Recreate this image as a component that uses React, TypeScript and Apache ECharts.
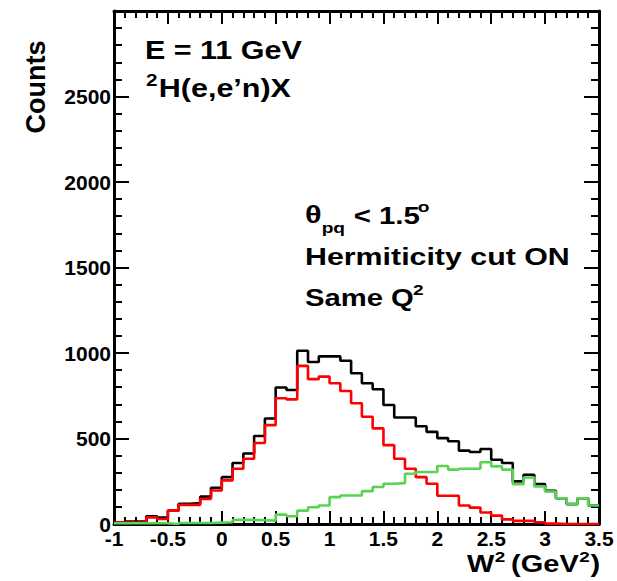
import React, { useEffect, useRef } from "react";
import * as echarts from "echarts";

// Bin edges of W^2 (GeV^2), 0.1 wide, from -1 to 3.5
const binEdges = [
  -1.0, -0.9, -0.8, -0.7, -0.6, -0.5, -0.4, -0.3, -0.2, -0.1,
  0.0, 0.1, 0.2, 0.3, 0.4, 0.5, 0.6, 0.7, 0.8, 0.9,
  1.0, 1.1, 1.2, 1.3, 1.4, 1.5, 1.6, 1.7, 1.8, 1.9,
  2.0, 2.1, 2.2, 2.3, 2.4, 2.5, 2.6, 2.7, 2.8, 2.9,
  3.0, 3.1, 3.2, 3.3, 3.4, 3.5,
];

// Black histogram (all events)
const totalCounts = [
  8, 14, 14, 45, 38, 78, 118, 122, 160, 212,
  274, 357, 412, 515, 617, 798, 784, 1013, 947, 980,
  980, 955, 882, 823, 788, 696, 623, 623, 572, 539,
  502, 484, 429, 421, 439, 376, 357, 249, 288, 233,
  194, 151, 116, 151, 108,
];

// Red histogram
const redCounts = [
  8, 8, 8, 39, 29, 78, 112, 112, 147, 196,
  255, 323, 382, 474, 578, 735, 729, 925, 847, 862,
  823, 778, 706, 627, 559, 461, 382, 323, 274, 235,
  165, 165, 108, 96, 67, 49, 27, 18, 18, 10,
  2, 0, 0, 0, 0,
];

// Green histogram
const greenCounts = [
  4, 4, 4, 4, 4, 0, 6, 6, 6, 8,
  10, 24, 24, 22, 20, 55, 45, 78, 98, 108,
  157, 167, 167, 192, 216, 235, 239, 294, 304, 304,
  339, 318, 323, 323, 361, 337, 318, 233, 272, 220,
  190, 151, 116, 151, 108,
];

const xMin = -1;
const xMax = 3.5;
const xInterval = 0.5;
const yMin = 0;
const yMax = 3000;
const yInterval = 500;

const FONT = "'Liberation Sans', Arial, Helvetica, sans-serif";

function histData(values: number[]) {
  return binEdges.map((e, i) => [e, values[Math.min(i, values.length - 1)]]);
}

function t(text: string, x: number, y: number, size: number, extra: any = {}) {
  return {
    type: "text",
    x,
    y,
    silent: true,
    style: {
      text,
      fill: "#000",
      font: `bold ${size}px ${FONT}`,
      align: "left",
      verticalAlign: "middle",
      ...extra,
    },
  };
}

export default function App() {
  const ref = useRef<HTMLDivElement>(null);

  useEffect(() => {
    if (!ref.current) return;
    const chart = echarts.init(ref.current, null, { renderer: "svg" });

    const axisLineStyle = { color: "#000", width: 3 };
    const tickStyle = { color: "#000", width: 2 };

    const option: any = {
      animation: false,
      backgroundColor: "#fff",
      grid: { left: 114, right: 18, top: 11, bottom: 57, containLabel: false },
      xAxis: [
        {
          type: "value",
          min: xMin,
          max: xMax,
          interval: xInterval,
          position: "bottom",
          axisLine: { show: true, onZero: false, lineStyle: axisLineStyle },
          axisTick: { show: true, inside: true, length: 13, lineStyle: tickStyle },
          minorTick: { show: true, splitNumber: 5, length: 7, lineStyle: tickStyle },
          splitLine: { show: false },
          axisLabel: {
            show: true,
            margin: 4,
            color: "#000",
            fontSize: 21,
            fontWeight: "bold",
            fontFamily: FONT,
            formatter: (v: number) => String(v),
          },
        },
        {
          type: "value",
          min: xMin,
          max: xMax,
          interval: xInterval,
          position: "top",
          axisLine: { show: true, onZero: false, lineStyle: axisLineStyle },
          axisTick: { show: true, inside: true, length: 13, lineStyle: tickStyle },
          minorTick: { show: true, splitNumber: 5, length: 7, lineStyle: tickStyle },
          splitLine: { show: false },
          axisLabel: { show: false },
        },
      ],
      yAxis: [
        {
          type: "value",
          min: yMin,
          max: yMax,
          interval: yInterval,
          position: "left",
          axisLine: { show: true, onZero: false, lineStyle: axisLineStyle },
          axisTick: { show: true, inside: true, length: 15, lineStyle: tickStyle },
          minorTick: { show: true, splitNumber: 5, length: 8, lineStyle: tickStyle },
          splitLine: { show: false },
          axisLabel: {
            show: true,
            margin: 3,
            color: "#000",
            fontSize: 21,
            fontWeight: "bold",
            fontFamily: FONT,
            showMaxLabel: false,
            formatter: (v: number) => String(v),
          },
        },
        {
          type: "value",
          min: yMin,
          max: yMax,
          interval: yInterval,
          position: "right",
          axisLine: { show: true, onZero: false, lineStyle: axisLineStyle },
          axisTick: { show: true, inside: true, length: 15, lineStyle: tickStyle },
          minorTick: { show: true, splitNumber: 5, length: 8, lineStyle: tickStyle },
          splitLine: { show: false },
          axisLabel: { show: false },
        },
      ],
      series: [
        {
          name: "All",
          type: "line",
          step: "end",
          data: histData(totalCounts),
          symbol: "none",
          lineStyle: { color: "#000000", width: 2.6 },
          z: 2,
        },
        {
          name: "Red",
          type: "line",
          step: "end",
          data: histData(redCounts),
          symbol: "none",
          lineStyle: { color: "#ff0000", width: 2.6 },
          z: 3,
        },
        {
          name: "Green",
          type: "line",
          step: "end",
          data: histData(greenCounts),
          symbol: "none",
          lineStyle: { color: "#59d354", width: 2.6 },
          z: 4,
        },
      ],
      graphic: [
        {
          type: "text",
          x: 36,
          y: 87,
          rotation: Math.PI / 2,
          silent: true,
          style: {
            text: "Counts",
            fill: "#000",
            font: `bold 27px ${FONT}`,
            align: "center",
            verticalAlign: "middle",
          },
        },
        {
          type: "group",
          x: 145,
          y: 0,
          scaleX: 1.22,
          children: [t("E = 11 GeV", 0, 50, 25)],
        },
        {
          type: "group",
          x: 146,
          y: 0,
          scaleX: 1.22,
          children: [t("2", 0, 80, 17), t("H(e,e’n)X", 10.5, 88, 25)],
        },
        {
          type: "group",
          x: 305,
          y: 0,
          scaleX: 1.28,
          children: [
            t("θ", 0, 215, 24),
            t("pq", 13, 228, 15),
            t("< 1.5", 38, 216, 23),
            t("o", 88, 207, 15),
          ],
        },
        {
          type: "group",
          x: 305,
          y: 0,
          scaleX: 1.32,
          children: [t("Hermiticity cut ON", 0, 257, 23)],
        },
        {
          type: "group",
          x: 305,
          y: 0,
          scaleX: 1.27,
          children: [t("Same Q", 0, 298, 23), t("2", 85, 290, 15)],
        },
        {
          type: "group",
          x: 467,
          y: 0,
          scaleX: 1.26,
          children: [
            t("W", 0, 564, 23),
            t("2", 22, 557, 15),
            t("(GeV", 35, 564, 23),
            t("2", 89, 557, 15),
            t(")", 98, 564, 23),
          ],
        },
      ],
    };

    chart.setOption(option);
    return () => {
      chart.dispose();
    };
  }, []);

  return (
    <div
      ref={ref}
      style={{ position: "absolute", left: 0, top: 0, width: 617, height: 581 }}
    />
  );
}
